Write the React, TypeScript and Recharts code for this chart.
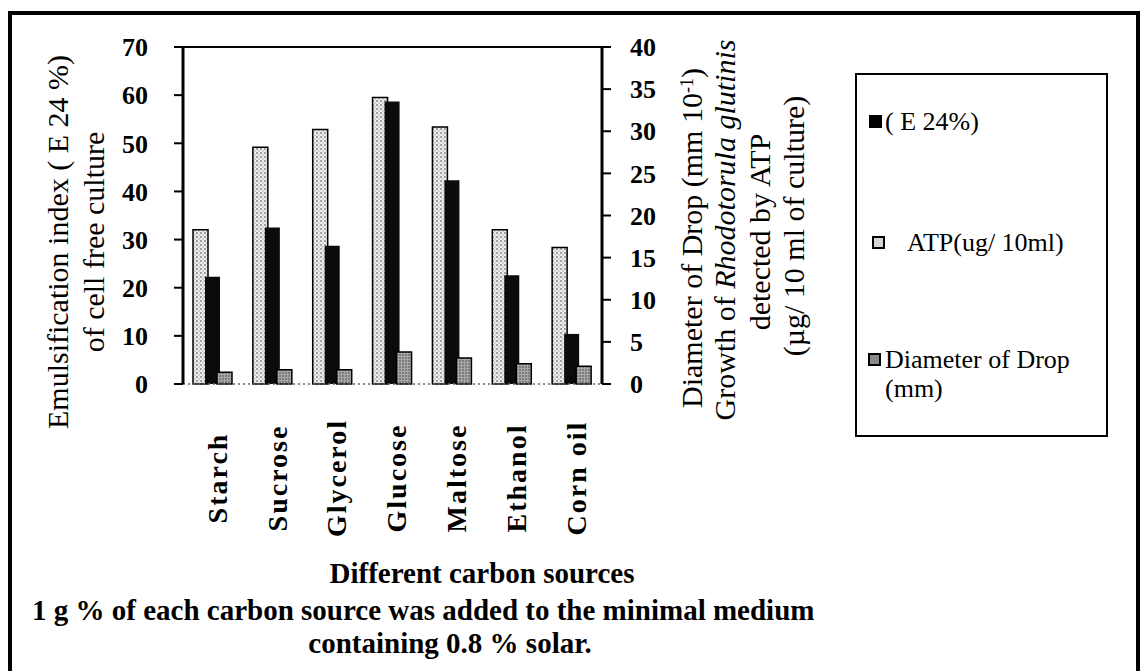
import React from 'react';
import { BarChart, Bar, XAxis, YAxis, ReferenceLine, Legend } from 'recharts';

// ---- data ----
const categories = ['Starch', 'Sucrose', 'Glycerol', 'Glucose', 'Maltose', 'Ethanol', 'Corn oil'];
// Emulsification index E24 % (left axis)
const e24Values = [22.3, 32.5, 28.7, 58.7, 42.3, 22.6, 10.4];
// ATP growth (right axis)
const atpValues = [18.3, 28.1, 30.2, 34.0, 30.5, 18.3, 16.2];
// Diameter of drop (right axis)
const dropValues = [1.4, 1.7, 1.7, 3.8, 3.1, 2.4, 2.1];

const leftTicks = [0, 10, 20, 30, 40, 50, 60, 70];
const rightTicks = [0, 5, 10, 15, 20, 25, 30, 35, 40];

const legendE24 = '( E 24%)';
const legendAtp = 'ATP(ug/ 10ml)';
const legendDropLine1 = 'Diameter of Drop';
const legendDropLine2 = '(mm)';

const leftTitle1 = 'Emulsification index ( E 24 %)';
const leftTitle2 = 'of cell free culture';
const rightTitle3 = 'detected by ATP';
const rightTitle4 = '(\u00b5g/ 10 ml of culture)';
const xTitle = 'Different carbon sources';
const note1 = '1 g % of each carbon source was added  to the minimal medium';
const note2 = 'containing 0.8 % solar.';

const data = categories.map((name, i) => ({
  name,
  atp: atpValues[i],
  e24: e24Values[i],
  drop: dropValues[i],
}));

const FONT = '"Liberation Serif", "Times New Roman", serif';

const CatTick = (props: any) => {
  const { x, y, payload } = props;
  return (
    <text
      x={0}
      y={0}
      dy="0.35em"
      transform={`translate(${x + 4},${y + 86}) rotate(-90)`}
      textAnchor="middle"
      fontFamily={FONT}
      fontWeight="bold"
      fontSize={28}
      letterSpacing={2}
      fill="#000"
    >
      {payload.value}
    </text>
  );
};

const LegendBox = () => {
  const text: React.CSSProperties = {
    position: 'absolute',
    fontFamily: FONT,
    fontSize: 26,
    lineHeight: '28px',
    color: '#000',
    whiteSpace: 'nowrap',
  };
  const sq: React.CSSProperties = { position: 'absolute', width: 13, height: 13, boxSizing: 'border-box' };
  return (
    <div style={{ position: 'relative', width: 253, height: 364, border: '2px solid #000', boxSizing: 'border-box', background: '#fff' }}>
      <div style={{ ...sq, left: 12, top: 40, background: '#000' }} />
      <div style={{ ...text, left: 28, top: 33 }}>{legendE24}</div>
      <div style={{ ...sq, left: 15, top: 161, border: '2px solid #000', background: '#d6d6d6' }} />
      <div style={{ ...text, left: 50, top: 154 }}>{legendAtp}</div>
      <div style={{ ...sq, left: 11, top: 278, border: '2px solid #000', background: '#8a8a8a' }} />
      <div style={{ ...text, left: 28, top: 271 }}>{legendDropLine1}</div>
      <div style={{ ...text, left: 28, top: 300 }}>{legendDropLine2}</div>
    </div>
  );
};

export default function App() {
  return (
    <div style={{ position: 'absolute', left: 0, top: 0, width: 1145, height: 671, background: '#fff', overflow: 'hidden' }}>
      <BarChart
        width={1145}
        height={671}
        data={data}
        margin={{ top: 47, right: 483, left: 123, bottom: 227 }}
        barGap={-3}
      >
        <defs>
          <pattern id="atpPat" width="4" height="4" patternUnits="userSpaceOnUse">
            <rect width="4" height="4" fill="#ececec" />
            <circle cx="1" cy="1" r="0.9" fill="#7f7f7f" />
            <circle cx="3" cy="3" r="0.7" fill="#a8a8a8" />
          </pattern>
          <pattern id="dropPat" width="3" height="3" patternUnits="userSpaceOnUse">
            <rect width="3" height="3" fill="#a8a8a8" />
            <circle cx="1" cy="1" r="0.8" fill="#444" />
          </pattern>
        </defs>
        <XAxis
          dataKey="name"
          height={60}
          interval={0}
          tickLine={false}
          axisLine={{ stroke: '#666', strokeDasharray: '2 3', strokeWidth: 1.5 }}
          tick={<CatTick />}
        />
        <YAxis
          yAxisId="left"
          orientation="left"
          width={60}
          domain={[0, 70]}
          ticks={leftTicks}
          interval={0}
          tickSize={9}
          tickMargin={26}
          axisLine={{ stroke: '#000', strokeWidth: 3 }}
          tickLine={{ stroke: '#000', strokeWidth: 2 }}
          tick={{ fontFamily: FONT, fontSize: 26, fontWeight: 'bold', fill: '#000' }}
        />
        <YAxis
          yAxisId="right"
          orientation="right"
          width={60}
          domain={[0, 40]}
          ticks={rightTicks}
          interval={0}
          tickSize={9}
          tickMargin={19}
          axisLine={{ stroke: '#000', strokeWidth: 3 }}
          tickLine={{ stroke: '#000', strokeWidth: 2 }}
          tick={{ fontFamily: FONT, fontSize: 26, fontWeight: 'bold', fill: '#000' }}
        />
        <ReferenceLine yAxisId="left" y={70} stroke="#000" strokeWidth={2} />
        <Bar yAxisId="right" dataKey="atp" name={legendAtp} fill="url(#atpPat)" stroke="#000" strokeWidth={1.5} barSize={15} isAnimationActive={false} />
        <Bar yAxisId="left" dataKey="e24" name={legendE24} fill="#0b0b0b" barSize={15} isAnimationActive={false} />
        <Bar yAxisId="right" dataKey="drop" name={legendDropLine1} fill="url(#dropPat)" stroke="#000" strokeWidth={1.5} barSize={15} isAnimationActive={false} />
        <Legend
          layout="vertical"
          align="center"
          verticalAlign="middle"
          wrapperStyle={{ position: 'absolute', left: 855, top: 73, width: 253, height: 364 }}
          content={() => <LegendBox />}
        />
      </BarChart>
      <svg width={1145} height={671} style={{ position: 'absolute', left: 0, top: 0, pointerEvents: 'none' }}>
        <rect x={10} y={13} width={1128} height={720} fill="none" stroke="#000" strokeWidth={4} />
        <g fontFamily={FONT} fontSize={30} fill="#000">
          <text transform="translate(57,242) rotate(-90)" textAnchor="middle" dy="0.35em">{leftTitle1}</text>
          <text transform="translate(93,242) rotate(-90)" textAnchor="middle" dy="0.35em">{leftTitle2}</text>
          <text transform="translate(691,238) rotate(-90)" textAnchor="middle" dy="0.35em">
            Diameter of Drop (mm 10<tspan dy="-9" fontSize={18}>-1</tspan><tspan dy="9">)</tspan>
          </text>
          <text transform="translate(724,230) rotate(-90)" textAnchor="middle" dy="0.35em">
            Growth of  <tspan fontStyle="italic">Rhodotorula glutinis</tspan>
          </text>
          <text transform="translate(759,232) rotate(-90)" textAnchor="middle" dy="0.35em">{rightTitle3}</text>
          <text transform="translate(793,226) rotate(-90)" textAnchor="middle" dy="0.35em">{rightTitle4}</text>
        </g>
        <g fontFamily={FONT} fontSize={29} fontWeight="bold" fill="#000">
          <text x={482} y={583} textAnchor="middle">{xTitle}</text>
          <text x={32} y={620}>{note1}</text>
          <text x={450} y={653} textAnchor="middle">{note2}</text>
        </g>
      </svg>
    </div>
  );
}
